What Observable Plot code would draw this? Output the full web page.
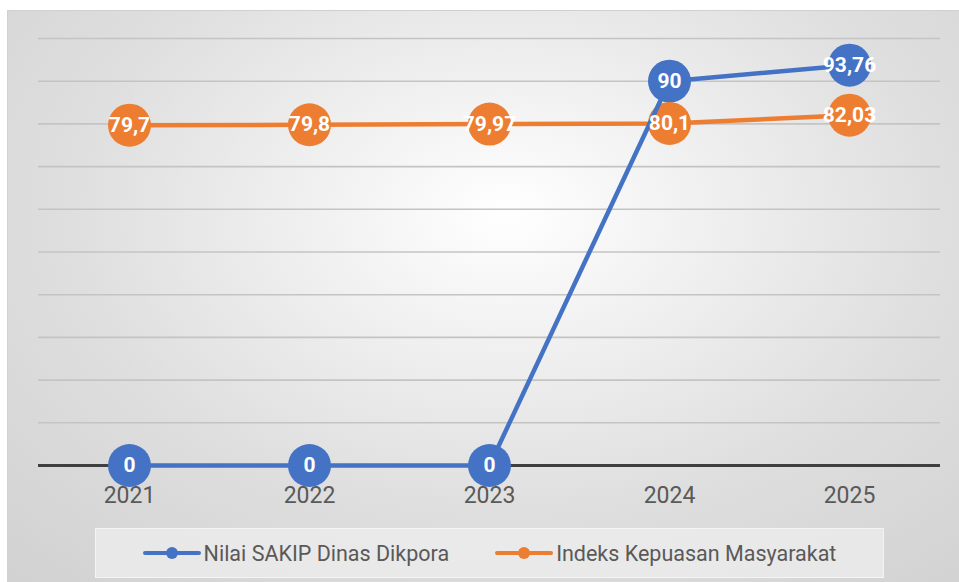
<!DOCTYPE html>
<html>
<head>
<meta charset="utf-8">
<script src="https://cdn.jsdelivr.net/npm/d3@7"></script>
<script src="https://cdn.jsdelivr.net/npm/@observablehq/plot@0.6"></script>
<style>
  html, body { margin: 0; padding: 0; background: #ffffff; }
  #wrap { position: relative; width: 959px; height: 582px; overflow: hidden; }
  #frame {
    position: absolute; left: 7px; top: 10px; width: 960px; height: 580px;
    border: 1px solid #d0d0d0; box-sizing: border-box;
    background: radial-gradient(ellipse 75% 85% at 52% 35%, #ffffff 0%, #f3f3f3 22%, #dedede 62%, #d2d2d2 100%);
  }
  #chart { position: absolute; left: 0; top: 0; }
  #legend {
    position: absolute; left: 95px; top: 528px; width: 789px; height: 50px;
    background: rgba(240,240,240,0.7); border: 1px solid rgba(255,255,255,0.5); box-sizing: border-box;
    display: flex; align-items: center; justify-content: center; gap: 46px;
    font-family: "Liberation Sans Narrow", "Roboto", sans-serif; font-size: 21.5px; color: #595959;
  }
  .item { display: flex; align-items: center; }
  .swatch { position: relative; width: 58px; height: 14px; margin-right: 3px; }
  .swatch .ln { position: absolute; left: 0; right: 0; top: 5px; height: 4px; border-radius: 2px; }
  .swatch .dt { position: absolute; left: 23px; top: 1px; width: 12px; height: 12px; border-radius: 50%; }
</style>
</head>
<body>
<div id="wrap">
  <div id="frame"></div>
  <div id="chart"></div>
  <div id="legend"></div>
</div>
<script>
const years = ["2021", "2022", "2023", "2024", "2025"];
const sakip = [0, 0, 0, 90, 93.76];
const ikm = [79.7, 79.8, 79.97, 80.1, 82.03];
const seriesNames = ["Nilai SAKIP Dinas Dikpora", "Indeks Kepuasan Masyarakat"];
const seriesColors = ["#4472C4", "#ED7D31"];
const gridValues = [10, 20, 30, 40, 50, 60, 70, 80, 90, 100];

const fmt = v => String(v).replace(".", ",");
const sakipData = years.map((y, i) => ({year: y, value: sakip[i], label: fmt(sakip[i])}));
const ikmData = years.map((y, i) => ({year: y, value: ikm[i], label: fmt(ikm[i])}));

const font = '"Liberation Sans Narrow", "Roboto", sans-serif';

const plot = Plot.plot({
  width: 959,
  height: 582,
  marginLeft: 38,
  marginRight: 19,
  marginTop: 38,
  marginBottom: 117,
  style: {background: "transparent", fontFamily: font, overflow: "visible"},
  x: {type: "band", domain: years, padding: 0, axis: null},
  y: {domain: [0, 100], axis: null},
  marks: [
    Plot.ruleY(gridValues, {stroke: "#c4c4c4", strokeWidth: 1.6}),
    Plot.ruleY([0], {stroke: "#3f3f3f", strokeWidth: 3}),
    Plot.axisX({tickSize: 0, tickPadding: 21, fontSize: 23, fill: "#595959", color: "#595959", stroke: null, label: null}),
    Plot.line(ikmData, {x: "year", y: "value", stroke: seriesColors[1], strokeWidth: 4.5}),
    Plot.dot(sakipData, {x: "year", y: "value", r: 21.5, fill: seriesColors[0], stroke: null}),
    Plot.dot(ikmData, {x: "year", y: "value", r: 21.5, fill: seriesColors[1], stroke: null}),
    Plot.line(sakipData, {x: "year", y: "value", stroke: seriesColors[0], strokeWidth: 4.5}),
    Plot.text(sakipData, {x: "year", y: "value", text: "label", fill: "white", fontWeight: "bold", fontSize: 21}),
    Plot.text(ikmData, {x: "year", y: "value", text: "label", fill: "white", fontWeight: "bold", fontSize: 21})
  ]
});
document.getElementById("chart").appendChild(plot);

const legend = document.getElementById("legend");
seriesNames.forEach((name, i) => {
  const item = document.createElement("div");
  item.className = "item";
  item.innerHTML = `<div class="swatch"><div class="ln" style="background:${seriesColors[i]}"></div><div class="dt" style="background:${seriesColors[i]}"></div></div><span>${name}</span>`;
  legend.appendChild(item);
});
</script>
</body>
</html>
